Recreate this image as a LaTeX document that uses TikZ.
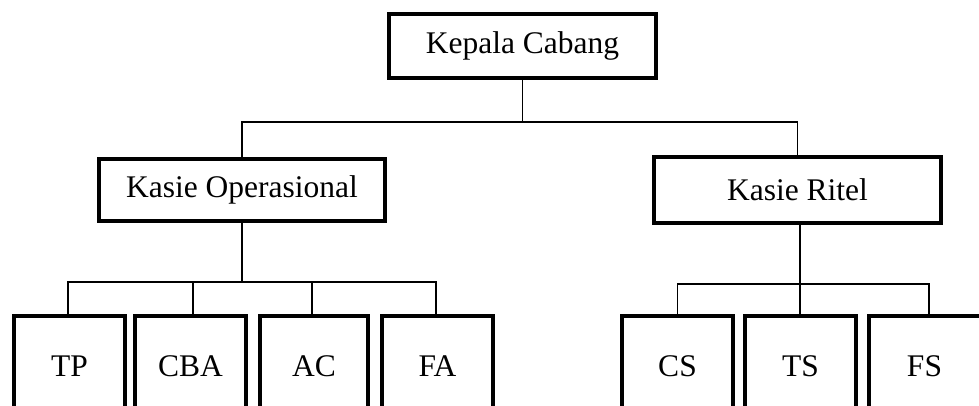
\documentclass[tikz,border=0pt]{standalone}
\usepackage{fontspec}
\setmainfont{Liberation Serif}
\begin{document}
\begin{tikzpicture}[x=1pt,y=-1pt,
  box/.style={draw=black,line width=4pt,fill=white,inner sep=0pt,font=\fontsize{31.5}{38}\selectfont},
  conn/.style={draw=black,line width=1.5pt}]
\useasboundingbox (0,0) rectangle (979,405);
\clip (0,0) rectangle (979,405);
\node[box,minimum width=267pt,minimum height=64pt] (kc) at (522.5,46) {Kepala Cabang};
\node[box,minimum width=286pt,minimum height=62pt] (ko) at (242,190) {Kasie Operasional};
\node[box,minimum width=287pt,minimum height=66pt] (kr) at (797.5,190) {Kasie Ritel};
\node[box,minimum width=111pt,minimum height=100pt] (tp) at (69.5,366) {TP};
\node[box,minimum width=111pt,minimum height=100pt] (cba) at (190.5,366) {CBA};
\node[box,minimum width=108pt,minimum height=100pt] (ac) at (314,366) {AC};
\node[box,minimum width=111pt,minimum height=100pt] (fa) at (437.5,366) {FA};
\node[box,minimum width=111pt,minimum height=100pt] (cs) at (677.5,366) {CS};
\node[box,minimum width=111pt,minimum height=100pt] (ts) at (800.5,366) {TS};
\node[box,minimum width=125pt,minimum height=100pt] (fs) at (931.5,366) {};
\node[font=\fontsize{31.5}{38}\selectfont,inner sep=0pt] (fst) at (924.5,366) {FS};
% top level
\coordinate (j1) at (kc.south |- 0,122);
\draw[conn] (kc.south) -- (j1);
\draw[conn] (ko.north) |- (j1) -| (kr.north);
% operasional
\coordinate (j2) at (ko.south |- 0,282);
\draw[conn] (ko.south) -- (j2);
\draw[conn] ([xshift=-1.5pt]tp.north) |- (j2) -| ([xshift=-1.5pt]fa.north);
\draw[conn] ([xshift=2.5pt]cba.north) |- (j2);
\draw[conn] ([xshift=-2pt]ac.north) |- (j2);
% ritel
\coordinate (j3) at ([xshift=2.5pt]kr.south |- 0,284);
\draw[conn] ([xshift=2.5pt]kr.south) -- (j3);
\draw[conn] (cs.north) |- (j3) -| ([xshift=-2.5pt]fs.north);
\draw[conn] ([xshift=-0.5pt]ts.north) |- (j3);
\end{tikzpicture}
\end{document}
